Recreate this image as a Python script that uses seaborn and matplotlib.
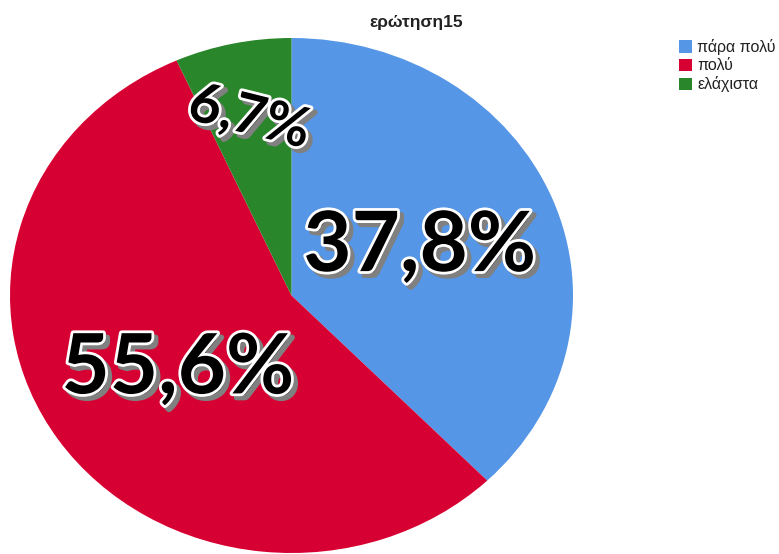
import matplotlib
matplotlib.use("Agg")
import matplotlib.pyplot as plt
import matplotlib.patheffects as pe
import seaborn as sns

# ---- data ----
categories = ["πάρα πολύ", "πολύ", "ελάχιστα"]
percentages = [37.8, 55.6, 6.7]
label_texts = ["37,8%", "55,6%", "6,7%"]
title_text = "ερώτηση15"

# ---- style ----
colors = ["#5596E6", "#D70032", "#29862A"]
label_pos = [(0.456, 0.186), (-0.403, -0.289), (-0.150, 0.69)]
label_sizes = [60, 60, 40]
label_rot = [0, 0, -14]

sns.set_theme(style="white")
plt.rcParams["font.family"] = ["Liberation Sans", "DejaVu Sans"]

W, H = 779, 554
fig = plt.figure(figsize=(W / 100, H / 100), dpi=100)

left_px, right_px, top_px, bottom_px = 10, 573, 38, 553
ax = fig.add_axes([left_px / W, 1 - bottom_px / H,
                   (right_px - left_px) / W, (bottom_px - top_px) / H])

wedges, _ = ax.pie(percentages, colors=colors, startangle=90, counterclock=False,
                   wedgeprops=dict(linewidth=0, antialiased=True))
ax.set_aspect("auto")
ax.set_xlim(-1, 1)
ax.set_ylim(-1, 1)
ax.axis("off")

for txt, (x, y), s, r in zip(label_texts, label_pos, label_sizes, label_rot):
    ax.text(x, y, txt, ha="center", va="center", fontsize=s, rotation=r,
            family=["Lato", "DejaVu Sans"], fontweight="bold", color="black",
            path_effects=[
                pe.withStroke(offset=(3, -3), linewidth=4, foreground="#808080"),
                pe.Stroke(linewidth=4, foreground="white"),
                pe.Normal(),
            ])

fig.text(416 / W, 1 - 22 / H, title_text, ha="center", va="center",
         fontsize=12.5, fontweight="bold", color="#222222")

leg = fig.legend(wedges, categories, loc="upper left",
                 bbox_to_anchor=(679 / W, 1 - 39 / H), frameon=False,
                 fontsize=11.5, handlelength=0.8, handleheight=0.8,
                 handletextpad=0.35, labelspacing=0.2, borderaxespad=0,
                 borderpad=0)
for t in leg.get_texts():
    t.set_color("#222222")

fig.savefig("out.png", dpi=100)
